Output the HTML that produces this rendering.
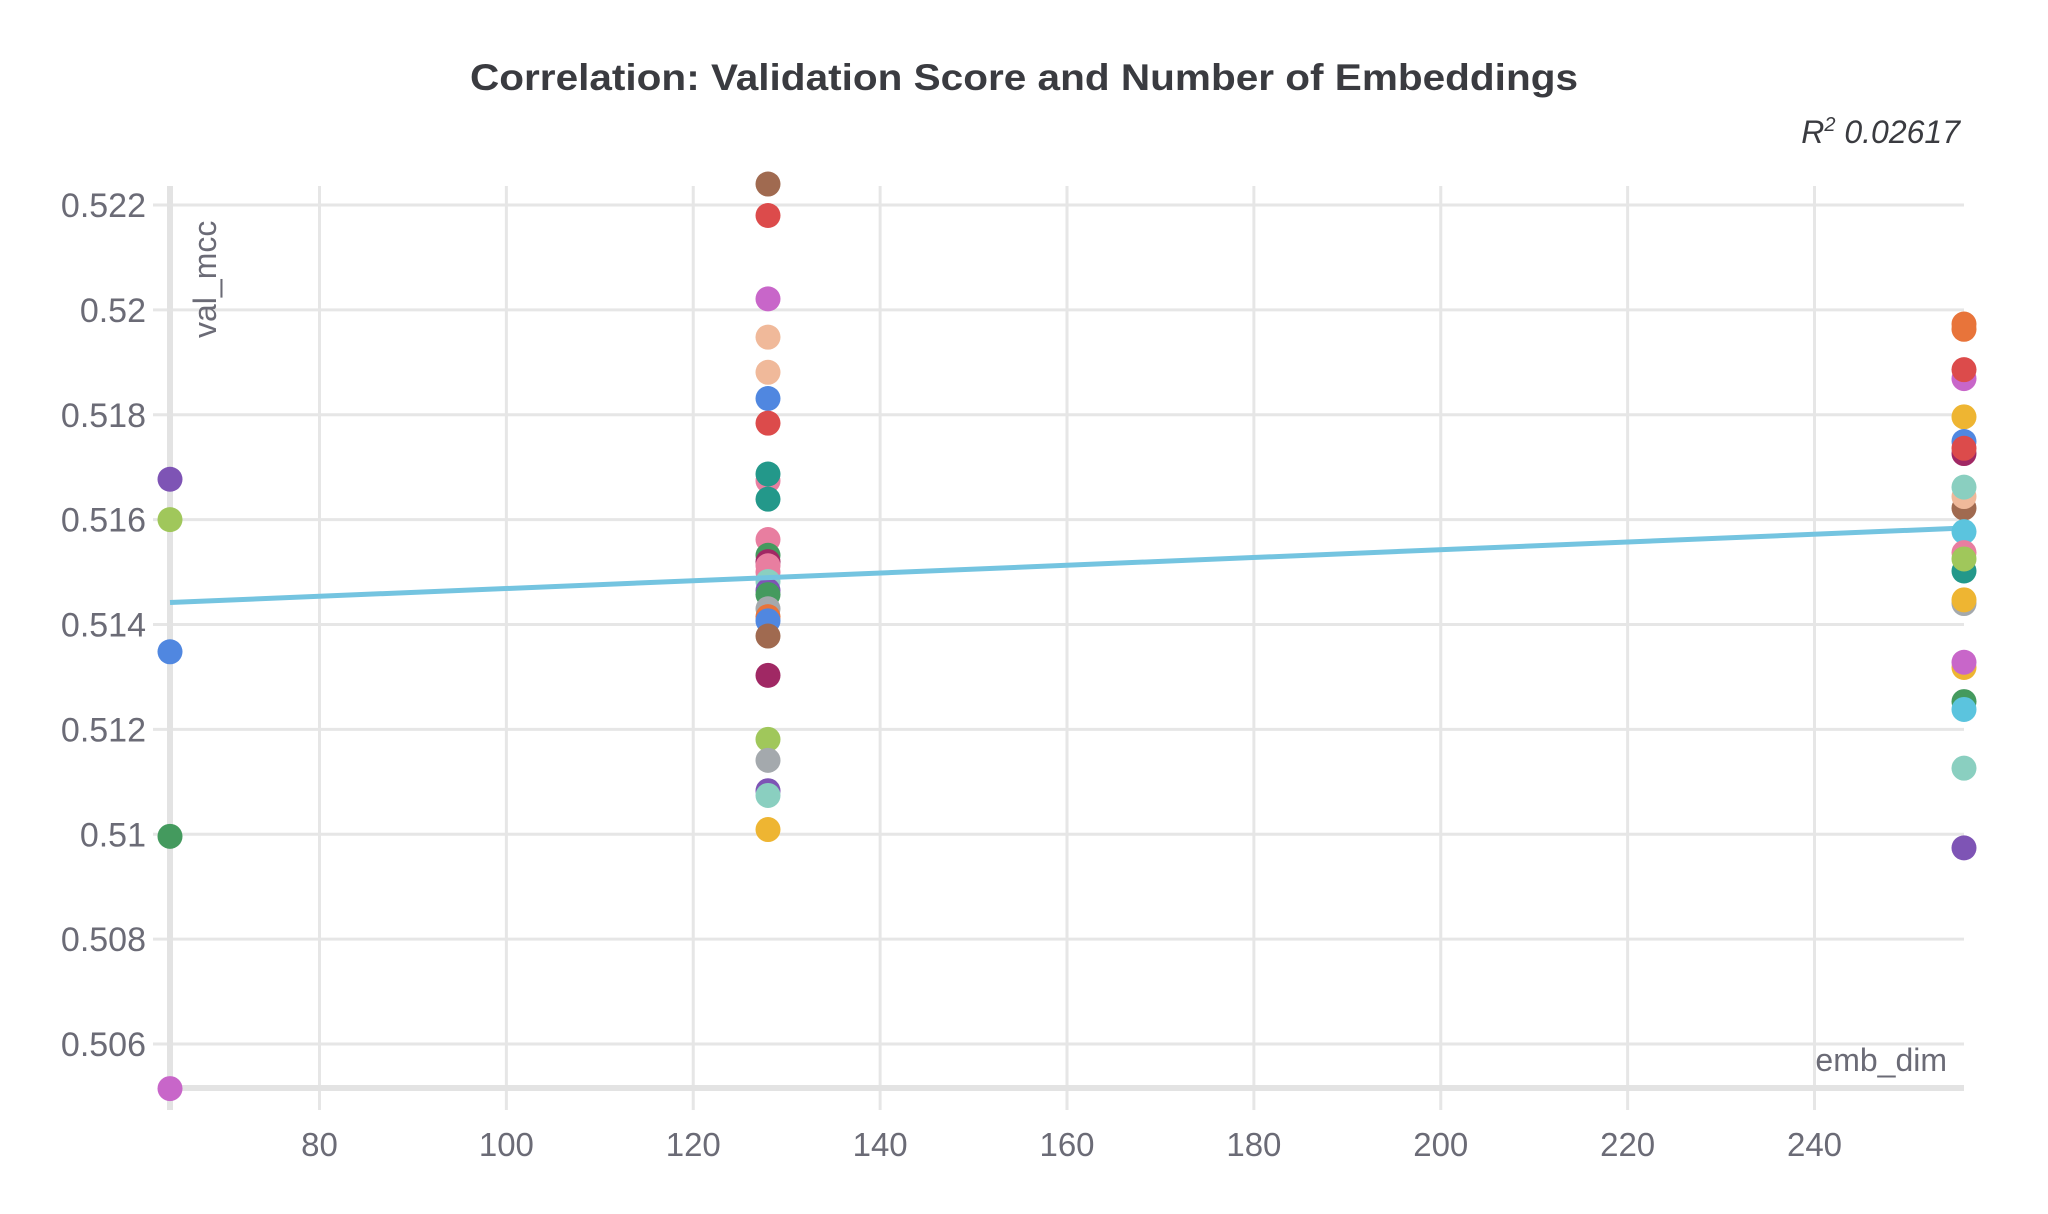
<!DOCTYPE html>
<html><head><meta charset="utf-8"><style>
body{margin:0;background:#fff;width:2048px;height:1209px;overflow:hidden}
svg text{font-family:"Liberation Sans",sans-serif}
</style></head><body>
<svg id="chart" width="2048" height="1209">
<text x="1024" y="90" text-anchor="middle" font-size="37" font-weight="bold" fill="#3a3b40" textLength="1108" lengthAdjust="spacingAndGlyphs">Correlation: Validation Score and Number of Embeddings</text>
<text x="1960" y="143" text-anchor="end" font-size="32" font-style="italic" fill="#3a3b40">R<tspan dy="-12" font-size="20">2</tspan><tspan dy="12"> 0.02617</tspan></text>
<g id="grid"></g><g id="axes"></g><g id="pts"></g>
</svg>
<script>
const xTicks=[80,100,120,140,160,180,200,220,240];
const yTicks=[0.506,0.508,0.51,0.512,0.514,0.516,0.518,0.52,0.522];
const x64=[0.51677,0.516,0.51348,0.50996,0.50515];
const c64=['#7e54b5','#a0c75b','#5087e0','#449a5e','#c866c9'];
const x128=[0.5224,0.5218,0.52021,0.51948,0.51881,0.51831,0.51784,0.51674,0.51687,0.51639,0.51562,0.51532,0.5152,0.51512,0.515,0.51482,0.51465,0.51457,0.5143,0.51415,0.51407,0.51378,0.51303,0.51181,0.51141,0.51083,0.51074,0.51009];
const c128=['#a06a50','#dc4b4b','#c866c9','#f0b99a','#f0b99a','#5087e0','#dc4b4b','#e87ea0','#23988a','#23988a','#e87ea0','#449a5e','#a02864','#e87ea0','#e87ea0','#8acfc0','#7e54b5','#449a5e','#a4a9ad','#e8743a','#5087e0','#a06a50','#a02864','#a0c75b','#a4a9ad','#7e54b5','#8acfc0','#eeb532'];
const x256=[0.51973,0.51963,0.51869,0.51886,0.51796,0.51749,0.51726,0.51736,0.51622,0.51644,0.51662,0.51577,0.51537,0.51502,0.51525,0.5144,0.51447,0.51318,0.51328,0.51253,0.51238,0.51126,0.50974];
const c256=['#e8743a','#e8743a','#c866c9','#dc4b4b','#eeb532','#5087e0','#a02864','#dc4b4b','#a06a50','#f0b99a','#8acfc0','#5bc4de','#e87ea0','#23988a','#a0c75b','#a4a9ad','#eeb532','#eeb532','#c866c9','#449a5e','#5bc4de','#8acfc0','#7e54b5'];
const trendX=[64,256];
const trendY=[0.51442,0.51584];
const X=v=>170+(v-64)*(1964-170)/192;
const Y=v=>205+(0.522-v)*(1044-205)/0.016;
const NS='http://www.w3.org/2000/svg';
function mk(tag,attrs,parent){const e=document.createElementNS(NS,tag);for(const k in attrs)e.setAttribute(k,attrs[k]);document.getElementById(parent).appendChild(e);return e;}
yTicks.forEach(t=>{
 const l=mk('line',{x1:153,x2:1964,y1:Y(t),y2:Y(t),stroke:'#e6e6e6','stroke-width':3},'grid');
 
 
 const tx=mk('text',{x:146,y:Y(t)+12,'text-anchor':'end','font-size':34,fill:'#6b6b76'},'axes');
 tx.textContent=String(t);
 
 
});
xTicks.forEach(t=>{
 const l=mk('line',{x1:X(t),x2:X(t),y1:186,y2:1110,stroke:'#e6e6e6','stroke-width':3},'grid');
 
 
 const tx=mk('text',{x:X(t),y:1156,'text-anchor':'middle','font-size':33,fill:'#6b6b76'},'axes');
 tx.textContent=String(t);
 
 
});
const ya=mk('line',{x1:170,x2:170,y1:186,y2:1110,stroke:'#e3e3e3','stroke-width':6},'axes');


const xa=mk('line',{x1:170,x2:1964,y1:1088,y2:1088,stroke:'#e3e3e3','stroke-width':6},'axes');


const yt=mk('text',{x:0,y:0,transform:'translate(216,338) rotate(-90)','font-size':32,fill:'#6b6b76'},'axes');
yt.textContent='val_mcc';


const xt=mk('text',{x:1947,y:1071,'text-anchor':'end','font-size':32,fill:'#6b6b76'},'axes');
xt.textContent='emb_dim';


function dots(xv,vals,cols){vals.forEach((v,i)=>{const c=mk('circle',{cx:X(xv),cy:Y(v),r:12.5,fill:cols[i]},'pts');
 
 });}
dots(64,x64,c64);dots(128,x128,c128);
const tl=mk('line',{x1:X(trendX[0]),y1:Y(trendY[0]),x2:X(trendX[1]),y2:Y(trendY[1]),stroke:'#74c4e0','stroke-width':5},'pts');


dots(256,x256,c256);
</script>
</body></html>
